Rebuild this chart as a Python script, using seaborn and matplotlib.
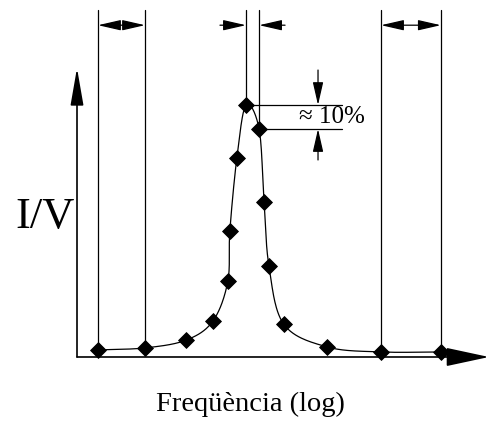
import numpy as np
import pandas as pd
import matplotlib
matplotlib.use("Agg")
import matplotlib.pyplot as plt
import seaborn as sns

# resonance curve: log frequency (arbitrary units) vs I/V (peak = 1)
freq_log = [0.51, 1.65, 2.65, 3.30, 3.66, 3.71, 3.88, 4.10, 4.42, 4.54, 4.66, 5.02, 6.07, 7.38, 8.83]
iv = [0.028, 0.036, 0.067, 0.143, 0.30, 0.50, 0.79, 1.0, 0.905, 0.615, 0.36, 0.13, 0.04, 0.02, 0.02]

# indices of the points that get dimension lines
left_pair = (0, 1)
peak_pair = (7, 8)
right_pair = (13, 14)

x_label = "Freqüència (log)"
y_label = "I/V"
delta_label = "≈ 10%"


def catmull_rom(x, y, n=30):
    """smooth parametric curve through the points (for drawing only)"""
    p = np.column_stack([x, y])
    p = np.vstack([2 * p[0] - p[1], p, 2 * p[-1] - p[-2]])
    out = []
    t = np.linspace(0, 1, n, endpoint=False)[:, None]
    for i in range(1, len(p) - 2):
        p0, p1, p2, p3 = p[i - 1], p[i], p[i + 1], p[i + 2]
        seg = 0.5 * ((2 * p1) + (-p0 + p2) * t + (2 * p0 - 5 * p1 + 4 * p2 - p3) * t ** 2
                     + (-p0 + 3 * p1 - 3 * p2 + p3) * t ** 3)
        out.append(seg)
    out.append(p[-2][None, :])
    return np.vstack(out)


sns.set_theme(style="white")
plt.rcParams["font.family"] = ["Liberation Serif", "DejaVu Serif"]
plt.rcParams["text.color"] = "black"

df = pd.DataFrame({"f": freq_log, "iv": iv})
curve = catmull_rom(df["f"].values, df["iv"].values)
curve_df = pd.DataFrame({"f": curve[:, 0], "iv": curve[:, 1]})

fig = plt.figure(figsize=(4.89, 4.23), dpi=100)
ax = fig.add_axes([0, 0, 1, 1])
ax.set_xlim(-1.869, 10.0)
ax.set_ylim(-0.262, 1.417)
ax.axis("off")

lw = 0.9
sns.lineplot(data=curve_df, x="f", y="iv", sort=False, color="black", lw=lw, ax=ax)
sns.scatterplot(data=df, x="f", y="iv", marker="D", s=65, color="black",
                edgecolor="black", ax=ax, zorder=5)

# axes with arrows
ax.annotate("", xy=(10.0, 0), xytext=(0, 0), annotation_clip=False,
            arrowprops=dict(arrowstyle="-|>,head_length=2.7,head_width=0.58",
                            color="black", lw=1.2, mutation_scale=10, shrinkA=0, shrinkB=0))
ax.annotate("", xy=(0, 1.147), xytext=(0, 0),
            arrowprops=dict(arrowstyle="-|>,head_length=2.3,head_width=0.4",
                            color="black", lw=1.2, mutation_scale=10, shrinkA=0, shrinkB=0))

top = 1.377
dim_y = 1.317
arrow = dict(arrowstyle="-|>,head_length=1.4,head_width=0.32", color="black",
             lw=0.9, mutation_scale=10, shrinkA=0, shrinkB=0)
arrow2 = dict(arrowstyle="<|-|>,head_length=1.4,head_width=0.32", color="black",
              lw=0.9, mutation_scale=10, shrinkA=0, shrinkB=0)

for pair in (left_pair, peak_pair, right_pair):
    for i in pair:
        ax.plot([freq_log[i], freq_log[i]], [iv[i], top], color="black", lw=lw)

for a, b in (left_pair, right_pair):
    ax.annotate("", xy=(freq_log[b], dim_y), xytext=(freq_log[a], dim_y), arrowprops=arrow2)

a, b = peak_pair
ax.annotate("", xy=(freq_log[a], dim_y), xytext=(freq_log[a] - 0.63, dim_y), arrowprops=arrow)
ax.annotate("", xy=(freq_log[b], dim_y), xytext=(freq_log[b] + 0.63, dim_y), arrowprops=arrow)

# 10% dimension at the peak
x_end = 6.43
x_dim = 5.85
ax.plot([freq_log[a], x_end], [iv[a], iv[a]], color="black", lw=lw)
ax.plot([freq_log[b], x_end], [iv[b], iv[b]], color="black", lw=lw)
ax.annotate("", xy=(x_dim, iv[a]), xytext=(x_dim, 1.139), arrowprops=arrow)
ax.annotate("", xy=(x_dim, iv[b]), xytext=(x_dim, 0.782), arrowprops=arrow)
ax.text(5.4, (iv[a] + iv[b]) / 2, delta_label, fontsize=18, ha="left", va="center")

ax.text(-0.78, 0.555, y_label, fontsize=32, ha="center", va="center")
ax.text(4.2, -0.19, x_label, fontsize=20.5, ha="center", va="center")

fig.savefig("out.png", dpi=100)
